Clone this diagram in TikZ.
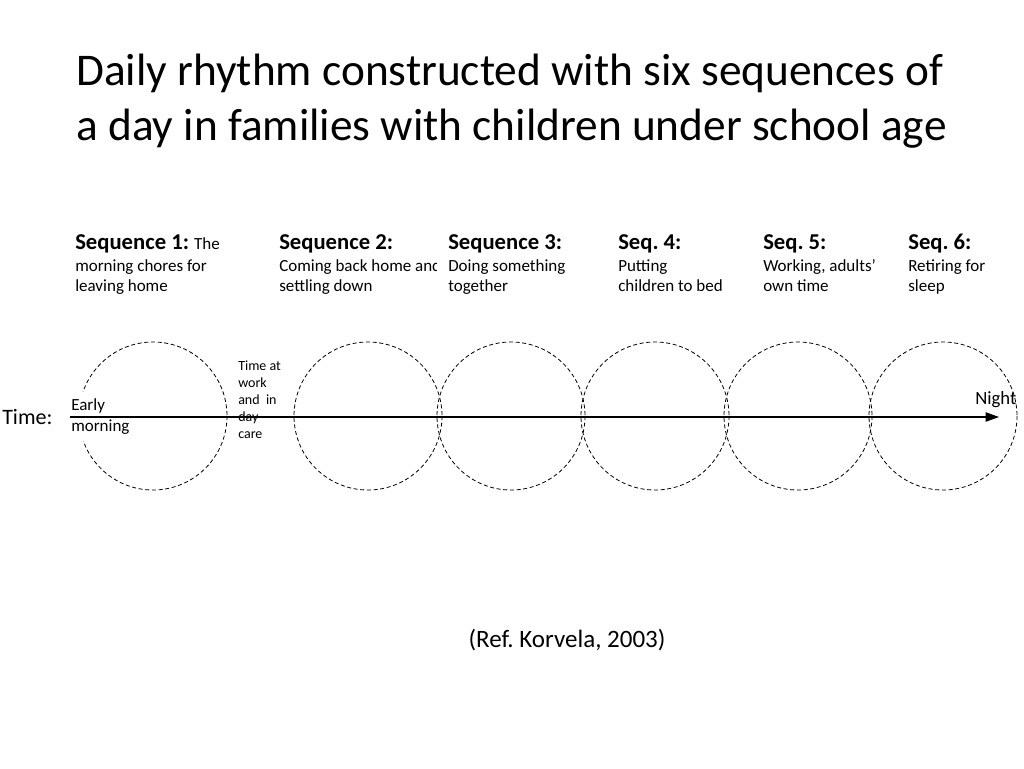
\documentclass[tikz,border=0pt]{standalone}
\usepackage{fontspec}
\setmainfont{Carlito}
\usetikzlibrary{arrows.meta}
\frenchspacing

\begin{document}
\begin{tikzpicture}[x=0.75pt,y=0.75pt,yscale=-1,xscale=1,
  seqcircle/.style={dash pattern=on 3pt off 2pt, line width=0.6pt},
  seqhead/.style={anchor=base west, inner sep=0pt, font=\fontsize{17}{20}\selectfont\bfseries},
  seqtext/.style={anchor=base west, inner sep=0pt, align=left, font=\fontsize{12.75}{15}\selectfont}]
\useasboundingbox (0,0) rectangle (1024,768);

% Title
\node [anchor=base west, inner sep=0pt, align=left, font=\fontsize{34}{41}\selectfont] (title) at (76,140) {Daily rhythm constructed with six sequences of\\a day in families with children under school age};

% Sequence headings
\node [seqhead] (head1) at (75,249) {Sequence 1: {\mdseries\fontsize{12.75}{15}\selectfont The}};
\node [seqhead] (head2) at (279,249) {Sequence 2:};
\node [seqhead] (head3) at (448,249) {Sequence 3:};
\node [seqhead] (head4) at (618,249) {Seq. 4:};
\node [seqhead] (head5) at (763,249) {Seq. 5:};
\node [seqhead] (head6) at (908,249) {Seq. 6:};

% Sequence texts
\node [seqtext] (text1) at (75,291) {morning chores for\\leaving home};
\begin{scope}
\clip (270,255) rectangle (436,300);
\node [seqtext] (text2) at (279,291) {Coming back home and\\settling down};
\end{scope}
\node [seqtext] (text3) at (448,291) {Doing something\\together};
\node [seqtext] (text4) at (618,291) {Putting\\children to bed};
\node [seqtext] (text5) at (763,291) {Working, adults’\\own time};
\node [seqtext] (text6) at (908,291) {Retiring for\\sleep};

%Shape: Circle
\coordinate (c1) at (153,416);
\coordinate (c2) at (368,416);
\coordinate (c3) at (511,416);
\coordinate (c4) at (655,416);
\coordinate (c5) at (798,416);
\coordinate (c6) at (943,416);
\draw [seqcircle] (c1) circle [radius=74];
\draw [seqcircle] (c2) circle [radius=74];
\draw [seqcircle] (c3) circle [radius=74];
\draw [seqcircle] (c4) circle [radius=74];
\draw [seqcircle] (c5) circle [radius=74];
\draw [seqcircle] (c6) circle [radius=74];

% Text Node
\node [seqtext, fill=white, inner xsep=0pt, inner ysep=5pt, font=\fontsize{12.75}{15.75}\selectfont] (early) at (71,431) {Early\\morning};

%Straight Lines
\coordinate (tstart) at (70,417);
\coordinate (tend) at (999,417);
\draw [line width=0.8pt, -{Triangle[length=10pt,width=7pt]}] (tstart) -- (tend);

% Text Node
\node [anchor=base west, inner sep=0pt, font=\fontsize{16.5}{20}\selectfont] (time) at (2,424) {Time:};
\node [anchor=base west, inner sep=0pt, align=left, font=\fontsize{10.5}{12.75}\selectfont] (work) at (238,438) {Time at\\work\\and~ in\\day\\care};
\node [anchor=base west, inner sep=0pt, font=\fontsize{14}{17}\selectfont] (night) at (975,404) {Night};
\node [anchor=base, inner sep=0pt, font=\fontsize{18.75}{22}\selectfont] (ref) at (567,647) {(Ref. Korvela, 2003)};
\end{tikzpicture}
\end{document}
